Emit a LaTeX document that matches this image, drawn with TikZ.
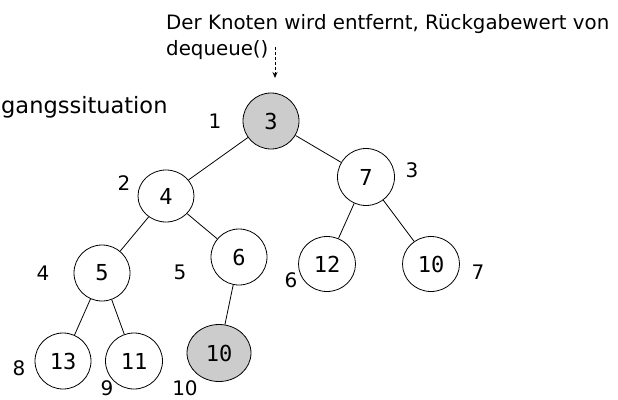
\documentclass[tikz,border=0pt]{standalone}
\usepackage{fontspec}
\setmainfont{DejaVu Sans}
\newfontfamily\monofnt{DejaVu Sans Mono}
\usetikzlibrary{shapes.geometric,arrows.meta}
\definecolor{nodegray}{RGB}{204,204,204}
\begin{document}
\begin{tikzpicture}[x=1pt,y=-1pt,
  hnode/.style={ellipse,draw,line width=0.8pt,inner sep=0pt,font=\monofnt\fontsize{22}{22}\selectfont},
  lbl/.style={inner sep=0pt,font=\fontsize{20}{20}\selectfont},
  edge/.style={line width=0.8pt}]
\useasboundingbox (0,0) rectangle (618,399);
\node[anchor=base west,inner sep=0pt,font=\fontsize{19.8}{20}\selectfont] (t1) at (166,29) {Der Knoten wird entfernt, Rückgabewert von};
\node[anchor=base west,inner sep=0pt,font=\fontsize{19.8}{20}\selectfont] (t2) at (166,55) {dequeue()};
\node[anchor=base west,inner sep=0pt,font=\fontsize{22.5}{23}\selectfont] (t3) at (1,113) {gangssituation};
\coordinate (a1) at (275,47);
\coordinate (a2) at (275,78);
\draw[dash pattern=on 3pt off 2pt,line width=0.8pt,-{Stealth[length=6pt,width=5pt]}] (a1) -- (a2);
\node[hnode,fill=nodegray,minimum width=56pt,minimum height=56pt] (r) at (271,121) {3};
\node[hnode,minimum width=56pt,minimum height=52pt] (n4) at (166,196) {4};
\node[hnode,minimum width=57pt,minimum height=57pt] (n7) at (366,177) {7};
\node[hnode,minimum width=56pt,minimum height=56pt] (n5) at (102,273) {5};
\node[hnode,minimum width=56pt,minimum height=56pt] (n6) at (239,257) {6};
\node[hnode,minimum width=57pt,minimum height=55pt] (n12) at (327,264) {12};
\node[hnode,minimum width=57pt,minimum height=55pt] (n10r) at (431,264) {10};
\node[hnode,minimum width=56pt,minimum height=56pt] (n13) at (63,361) {13};
\node[hnode,minimum width=57pt,minimum height=56pt] (n11) at (134,361) {11};
\node[hnode,fill=nodegray,minimum width=64pt,minimum height=57pt] (n10g) at (219,353) {10};
\draw[edge] (r) -- (n4);
\draw[edge] (r) -- (n7);
\draw[edge] (n4) -- (n5);
\draw[edge] (n4) -- (n6);
\draw[edge] (n7) -- (n12);
\draw[edge] (n7) -- (n10r);
\draw[edge] (n5) -- (n13);
\draw[edge] (n5) -- (n11);
\draw[edge] (n6) -- (n10g);
\node[lbl] (l1) at (215,121) {1};
\node[lbl] (l2) at (124,183) {2};
\node[lbl] (l3) at (412,170) {3};
\node[lbl] (l4) at (43,273) {4};
\node[lbl] (l5) at (180,272) {5};
\node[lbl] (l6) at (291,280) {6};
\node[lbl] (l7) at (478,272) {7};
\node[lbl] (l8) at (19,368) {8};
\node[lbl] (l9) at (107,388) {9};
\node[lbl] (l10) at (185,388) {10};
\end{tikzpicture}
\end{document}
